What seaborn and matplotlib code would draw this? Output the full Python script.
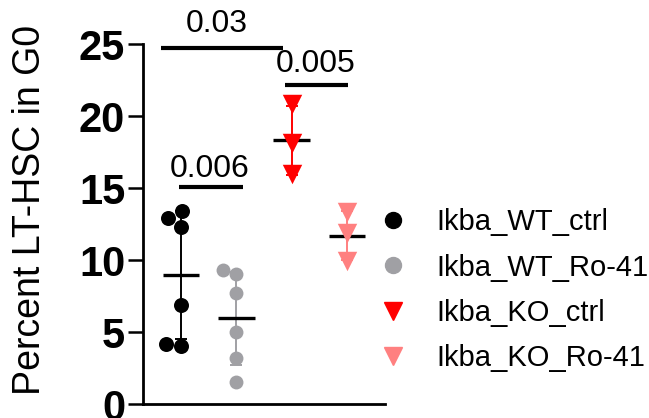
import numpy as np
import pandas as pd
import matplotlib
matplotlib.use("Agg")
import matplotlib.pyplot as plt
import seaborn as sns
from matplotlib.lines import Line2D

# ---- data ----
groups = ["Ikba_WT_ctrl", "Ikba_WT_Ro-41", "Ikba_KO_ctrl", "Ikba_KO_Ro-41"]
wt_ctrl = [13.4, 12.9, 12.3, 6.9, 4.2, 4.0]
wt_ro41 = [9.3, 9.0, 7.7, 5.0, 3.2, 1.5]
ko_ctrl = [20.8, 18.1, 16.0]
ko_ro41 = [13.3, 11.9, 9.9]
series = [wt_ctrl, wt_ro41, ko_ctrl, ko_ro41]
yticks = [0, 5, 10, 15, 20, 25]
ylabel = "Percent LT-HSC in G0"
p_labels = ["0.03", "0.006", "0.005"]

colors = ["#000000", "#A0A0A4", "#FF0000", "#FF8080"]
markers = ["o", "o", "v", "v"]
msizes = [10.8, 10.0, 14.0, 14.0]

df = pd.DataFrame({
    "group": np.repeat(groups, [len(s) for s in series]),
    "value": np.concatenate(series),
})

sns.set_style("white")
plt.rcParams["font.family"] = ["Liberation Sans", "DejaVu Sans"]
plt.rcParams["text.color"] = "black"
plt.rcParams["axes.labelcolor"] = "black"
plt.rcParams["ytick.color"] = "black"
plt.rcParams["xtick.color"] = "black"

fig = plt.figure(figsize=(6.49, 4.18), dpi=100)
ax = fig.add_axes([143 / 649, 14 / 418, 242 / 649, 360 / 418])

# error bars (SD) and mean lines
for i, (g, c) in enumerate(zip(groups, colors)):
    vals = df.loc[df.group == g, "value"].to_numpy()
    m, sd = vals.mean(), vals.std(ddof=1)
    ax.errorbar(i, m, yerr=sd, color=c, elinewidth=1.4, capsize=4.3,
                capthick=1.4, fmt="none", zorder=1)
    ax.hlines(m, i - 0.33, i + 0.33, color="black", linewidth=2.4, zorder=2)

# points
for g, c, mk, s in zip(groups, colors, markers, msizes):
    sub = df[df.group == g]
    sns.swarmplot(data=sub, x="group", y="value", order=groups, color=c,
                  marker=mk, size=s, linewidth=0, ax=ax, zorder=3)

ax.set_xlim(-0.69, 3.69)
ax.set_ylim(0, 25)
ax.set_xticks([])
ax.set_xlabel("")
ax.set_yticks(yticks)
ax.set_yticklabels([str(t) for t in yticks], fontsize=30, fontweight="bold",
                   color="black")
ax.tick_params(axis="y", length=10.8, width=1.8, pad=2, left=True,
               color="black")
for sp in ["top", "right"]:
    ax.spines[sp].set_visible(False)
for sp in ["left", "bottom"]:
    ax.spines[sp].set_linewidth(2.0)
    ax.spines[sp].set_color("black")
ax.set_ylabel(ylabel, fontsize=27, va="center", color="black")
ax.yaxis.set_label_coords(-0.467, 0.539)

# significance annotations
sig = [(-0.36, 1.84, 24.7, 0.65, 25.8, p_labels[0]),
       (-0.04, 1.12, 15.1, 0.52, 15.76, p_labels[1]),
       (1.88, 3.02, 22.15, 2.44, 23.05, p_labels[2])]
for x0, x1, yb, xt, yt, lab in sig:
    ax.plot([x0, x1], [yb, yb], color="black", linewidth=3.0,
            solid_capstyle="butt", clip_on=False, zorder=4)
    ax.text(xt, yt, lab, ha="center", va="baseline", fontsize=23,
            color="black", clip_on=False)

# legend
handles = [Line2D([], [], linestyle="none", marker=mk, color=c,
                  markersize=(11.5 if mk == "o" else 13))
           for c, mk in zip(colors, markers)]
leg = fig.legend(handles, groups, loc="upper left",
                 bbox_to_anchor=(378.5 / 649, 1 - 208 / 418), frameon=False,
                 fontsize=21, borderpad=0, handlelength=1.0,
                 handletextpad=1.0, labelspacing=0.6, borderaxespad=0)
for t in leg.get_texts():
    t.set_color("black")

fig.savefig("out.png", dpi=100)
